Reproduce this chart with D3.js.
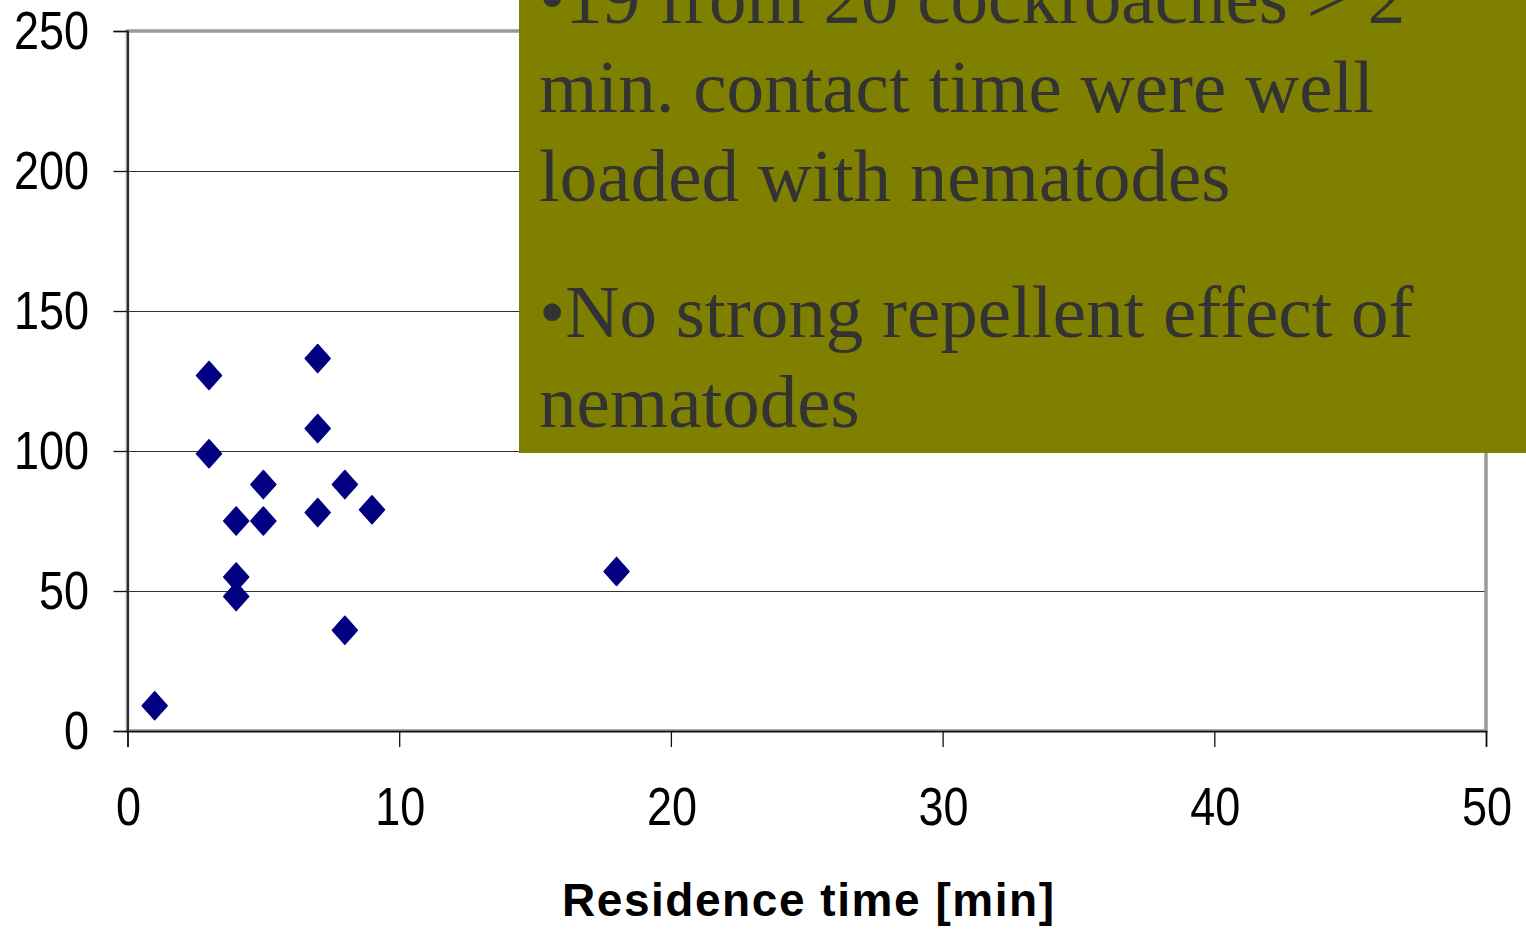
<!DOCTYPE html>
<html>
<head>
<meta charset="utf-8">
<script src="https://cdn.jsdelivr.net/npm/d3@7/dist/d3.min.js"></script>
<style>
body { margin: 0; background: #fff; }
</style>
</head>
<body>
<div id="chart"></div>
<script>
//data
var residence = [1, 3, 3, 4, 4, 4, 5, 5, 7, 7, 7, 8, 8, 9, 18];
var nematodes = [9, 127, 99, 75, 55, 48, 88, 75, 133, 108, 78, 88, 36, 79, 57];
var xTicks = [0, 10, 20, 30, 40, 50];
var yTicks = [0, 50, 100, 150, 200, 250];
var xTitle = "Residence time [min]";
var noteLines = [
	"\u202219 from 20 cockroaches > 2",
	"min. contact time were well",
	"loaded with nematodes",
	"\u2022No strong repellent effect of",
	"nematodes"
];

//svg dimensions
var xSize = 1526;
var ySize = 929;

var svg = d3.select("#chart").append("svg")
	.attr("width", xSize)
	.attr("height", ySize);

var x = d3.scaleLinear().domain([0, 50]).range([127.5, 1486]);
var y = d3.scaleLinear().domain([0, 250]).range([731, 31]);

//gridlines
svg.selectAll("line.grid")
	.data(yTicks.filter(function(t){ return t > 0 && t < 250; }))
	.enter()
	.append("line")
	.attr("class", "grid")
	.attr("x1", x(0))
	.attr("x2", x(50))
	.attr("y1", function(t){ return Math.round(y(t)) + 0.5; })
	.attr("y2", function(t){ return Math.round(y(t)) + 0.5; })
	.attr("stroke", "#333")
	.attr("stroke-width", 1.2);

//plot area frame (grey, excel style)
svg.append("rect")
	.attr("x", x(0))
	.attr("y", y(250))
	.attr("width", x(50) - x(0))
	.attr("height", y(0) - y(250))
	.attr("fill", "none")
	.attr("stroke", "#999")
	.attr("stroke-width", 3.5);

//axes
var yAxis = d3.axisLeft(y).tickValues(yTicks).tickSize(14).tickFormat("");
var xAxis = d3.axisBottom(x).tickValues(xTicks).tickSize(16).tickFormat("");

var gy = svg.append("g").attr("transform", "translate(" + x(0) + ",0)").call(yAxis);
var gx = svg.append("g").attr("transform", "translate(0," + y(0) + ")").call(xAxis);
gy.select(".domain").attr("stroke", "#111").attr("stroke-width", 1.6);
gx.select(".domain").attr("stroke", "#111").attr("stroke-width", 1.6);
gy.selectAll(".tick line").attr("stroke", "#111").attr("stroke-width", 1.3);
gx.selectAll(".tick line").attr("stroke", "#111").attr("stroke-width", 1.3);

//tick labels, slightly stretched vertically like the original
svg.selectAll("text.ylab")
	.data(yTicks)
	.enter()
	.append("text")
	.attr("class", "ylab")
	.attr("text-anchor", "end")
	.attr("font-family", "Liberation Sans, Arial, sans-serif")
	.attr("font-size", 45)
	.attr("transform", function(t){
		return "translate(89," + (y(t) + 18) + ") scale(1,1.2)";
	})
	.text(function(t){ return t; });

svg.selectAll("text.xlab")
	.data(xTicks)
	.enter()
	.append("text")
	.attr("class", "xlab")
	.attr("text-anchor", "middle")
	.attr("font-family", "Liberation Sans, Arial, sans-serif")
	.attr("font-size", 45)
	.attr("transform", function(t){
		return "translate(" + (x(t) + 1) + ",825) scale(1,1.2)";
	})
	.text(function(t){ return t; });

svg.append("text")
	.attr("x", 808)
	.attr("y", 916)
	.attr("text-anchor", "middle")
	.attr("font-family", "Liberation Sans, Arial, sans-serif")
	.attr("font-weight", "bold")
	.attr("font-size", 46)
	.attr("textLength", 492)
	.attr("lengthAdjust", "spacing")
	.text(xTitle);

//diamond markers
function diamond(cx, cy){
	var w = 12.5, h = 14;
	return "M" + cx + "," + (cy - h) + "L" + (cx + w) + "," + cy +
		"L" + cx + "," + (cy + h) + "L" + (cx - w) + "," + cy + "Z";
}

svg.selectAll("path.pt")
	.data(residence)
	.enter()
	.append("path")
	.attr("class", "pt")
	.attr("d", function(d, i){ return diamond(x(d), y(nematodes[i])); })
	.attr("fill", "#000080")
	.attr("stroke", "#000080")
	.attr("stroke-width", 1.5)
	.attr("stroke-linejoin", "round");

//olive text box on top
svg.append("rect")
	.attr("x", 519)
	.attr("y", 0)
	.attr("width", xSize - 519)
	.attr("height", 453)
	.attr("fill", "#808000");

//first line is cut by the top edge in the original slide too
var baselines = [23, 112, 201, 337, 427];
svg.selectAll("text.note")
	.data(noteLines)
	.enter()
	.append("text")
	.attr("class", "note")
	.attr("x", 539)
	.attr("y", function(d, i){ return baselines[i]; })
	.attr("font-family", "Liberation Serif, Times New Roman, serif")
	.attr("font-size", 75)
	.attr("fill", "#333")
	.text(function(d){ return d; });
</script>
</body>
</html>
